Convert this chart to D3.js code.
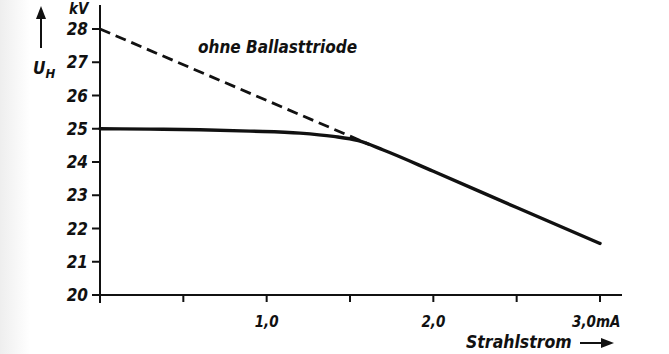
<!DOCTYPE html>
<html><head><meta charset="utf-8">
<script src="https://cdn.jsdelivr.net/npm/d3@7"></script>
<style>
html,body{margin:0;padding:0;background:#fff;}
svg text{font-family:"DejaVu Sans Condensed","DejaVu Sans",sans-serif;font-style:italic;font-weight:bold;fill:#111;}
</style></head>
<body>
<svg id="c" width="669" height="354"></svg>
<script>
// Data
const yTicks = [20,21,22,23,24,25,26,27,28];
const xTicks = [0,0.5,1.0,1.5,2.0,2.5,3.0];
const xTickLabels = {"1":"1,0","2":"2,0","3":"3,0mA"};
const solidI = [0, 0.3, 0.6, 0.9, 1.2, 1.4, 1.55, 1.7, 2.0, 2.5, 3.0];
const solidU = [25.0, 24.99, 24.97, 24.93, 24.87, 24.77, 24.64, 24.36, 23.72, 22.63, 21.55];
const dashedI = [0, 1.62];
const dashedU = [28.0, 24.52];

const svg = d3.select("#c");
const x = d3.scaleLinear().domain([0,3]).range([100,600]);
const y = d3.scaleLinear().domain([20,28]).range([295,29]);
const ink = "#111";

const defs = svg.append("defs");
const g1 = defs.append("linearGradient").attr("id","lg");
g1.append("stop").attr("offset","0").attr("stop-color","#eeeeee");
g1.append("stop").attr("offset","1").attr("stop-color","#ffffff");
svg.append("rect").attr("x",0).attr("y",0).attr("width",30).attr("height",354).attr("fill","url(#lg)");

// axes
svg.append("line").attr("x1",x(0)).attr("x2",x(0)).attr("y1",5).attr("y2",303)
  .attr("stroke",ink).attr("stroke-width",2);
svg.append("line").attr("x1",92).attr("x2",622).attr("y1",y(20)).attr("y2",y(20))
  .attr("stroke",ink).attr("stroke-width",2);

// y ticks
svg.selectAll(".yt").data(yTicks).enter().append("line")
  .attr("x1",92).attr("x2",x(0)).attr("y1",d=>y(d)).attr("y2",d=>y(d))
  .attr("stroke",ink).attr("stroke-width",2);
svg.selectAll(".yl").data(yTicks).enter().append("text")
  .attr("x",88).attr("y",d=>y(d)+6).attr("text-anchor","end")
  .attr("font-size",17).text(d=>d);

// x ticks
svg.selectAll(".xt").data(xTicks.filter(d=>d>0)).enter().append("line")
  .attr("x1",d=>x(d)).attr("x2",d=>x(d)).attr("y1",y(20)).attr("y2",y(20)+7)
  .attr("stroke",ink).attr("stroke-width",2);
svg.selectAll(".xl").data(xTicks.filter(d=>xTickLabels[d])).enter().append("text")
  .attr("x",d=>d===3? x(d)-28 : x(d)).attr("y",327)
  .attr("text-anchor",d=>d===3?"start":"middle")
  .attr("font-size",15).text(d=>xTickLabels[d]);

// axis titles
svg.append("text").attr("x",69).attr("y",14).attr("font-size",15).text("kV");
const uh = svg.append("text").attr("x",33).attr("y",74).attr("font-size",17);
uh.append("tspan").text("U");
uh.append("tspan").attr("font-size",13).attr("dy",4).text("H");
svg.append("line").attr("x1",41).attr("x2",41).attr("y1",48).attr("y2",16).attr("stroke",ink).attr("stroke-width",2);
svg.append("path").attr("d","M41,6 L36,19 L46,19 Z").attr("fill",ink);

svg.append("text").attr("x",466).attr("y",348).attr("font-size",17.5).text("Strahlstrom");
svg.append("line").attr("x1",580).attr("x2",604).attr("y1",343).attr("y2",343).attr("stroke",ink).attr("stroke-width",2);
svg.append("path").attr("d","M614,343 L601,338 L601,348 Z").attr("fill",ink);

svg.append("text").attr("x",198).attr("y",53).attr("font-size",17).text("ohne Ballasttriode");

// curves
const line = d3.line().x(d=>x(d[0])).y(d=>y(d[1]));
svg.append("path").datum(dashedI.map((v,i)=>[v,dashedU[i]]))
  .attr("d",line).attr("fill","none").attr("stroke",ink).attr("stroke-width",2.8)
  .attr("stroke-dasharray","11,6");
svg.append("path").datum(solidI.map((v,i)=>[v,solidU[i]]))
  .attr("d",line.curve(d3.curveMonotoneX)).attr("fill","none").attr("stroke",ink)
  .attr("stroke-width",3.4).attr("stroke-linecap","round");
</script>
</body></html>
